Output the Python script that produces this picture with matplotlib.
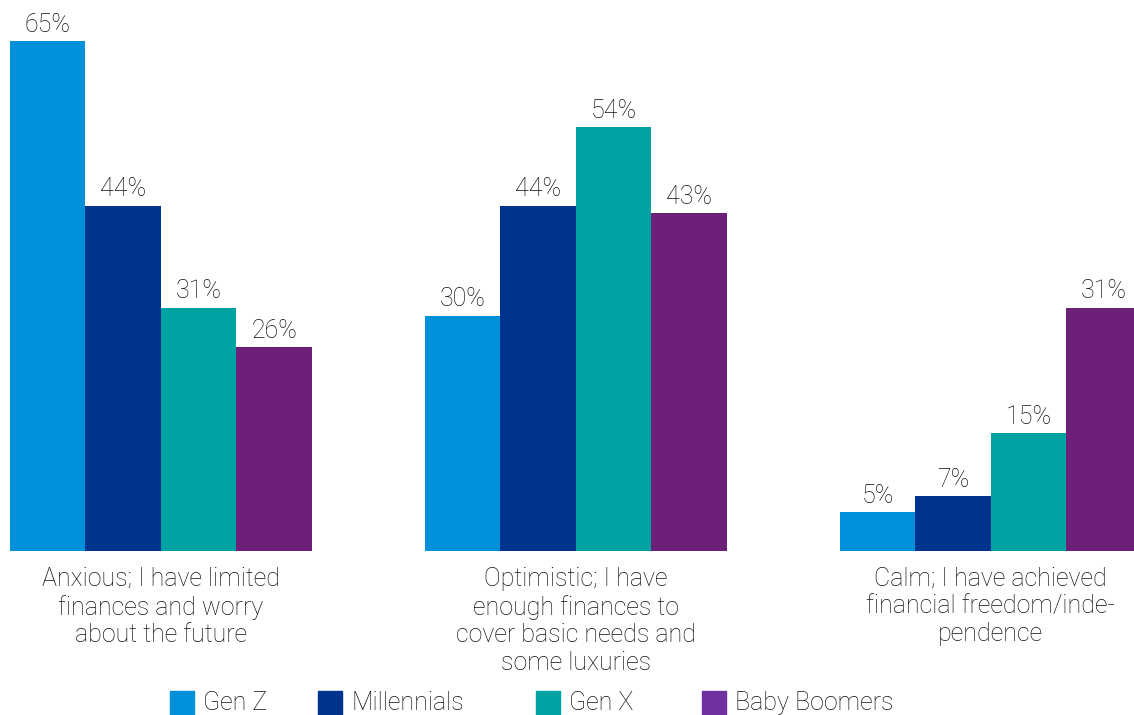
import matplotlib
matplotlib.use("Agg")
import matplotlib.pyplot as plt
from matplotlib.patches import Rectangle

categories = [
    "Anxious; I have limited\nfinances and worry\nabout the future",
    "Optimistic; I have\nenough finances to\ncover basic needs and\nsome luxuries",
    "Calm; I have achieved\nfinancial freedom/inde-\npendence",
]
series = ["Gen Z", "Millennials", "Gen X", "Baby Boomers"]
values = {
    "Gen Z": [65, 30, 5],
    "Millennials": [44, 44, 7],
    "Gen X": [31, 54, 15],
    "Baby Boomers": [26, 43, 31],
}
bar_colors = ["#0091DA", "#00338D", "#00A3A1", "#6D2077"]
legend_colors = ["#0091DA", "#00338D", "#00A3A1", "#7030A0"]

plt.rcParams["font.family"] = ["Roboto", "DejaVu Sans"]
TEXT = "#111111"
FS = 18
WT = "light"

W, H = 1134, 715
fig = plt.figure(figsize=(W / 100, H / 100), dpi=100)
ax = fig.add_axes([0, (H - 551) / H, 1, 551 / H])

group_step = 5.5
for s, name in enumerate(series):
    xs = [g * group_step + s for g in range(len(categories))]
    bars = ax.bar(xs, values[name], width=1.0, align="edge",
                  color=bar_colors[s], edgecolor="none")
    for rect, v in zip(bars, values[name]):
        ax.annotate(f"{v}%", (rect.get_x() + rect.get_width() / 2, rect.get_height()),
                    xytext=(0, 3), textcoords="offset points",
                    ha="center", va="bottom", fontsize=FS, color=TEXT,
                    fontweight=WT)

ax.set_xlim(-10 / 75.45, 1124 / 75.45)
ax.set_ylim(0, 551 / 7.85)
ax.axis("off")

for g, cat in enumerate(categories):
    cx = g * group_step + 2
    ax.text(cx, -2.0, cat, ha="center", va="top", fontsize=FS, color=TEXT,
            linespacing=1.2, fontweight=WT, clip_on=False)

# legend drawn at fixed figure positions
swatch_x = [170, 318, 536, 702]
for name, col, x0 in zip(series, legend_colors, swatch_x):
    fig.patches.append(Rectangle((x0 / W, 0), 24 / W, 24 / H,
                                 transform=fig.transFigure, color=col))
    fig.text((x0 + 33) / W, (H - 703) / H, name, ha="left", va="center",
             fontsize=FS, color=TEXT, fontweight=WT)

fig.savefig("out.png", dpi=100)
